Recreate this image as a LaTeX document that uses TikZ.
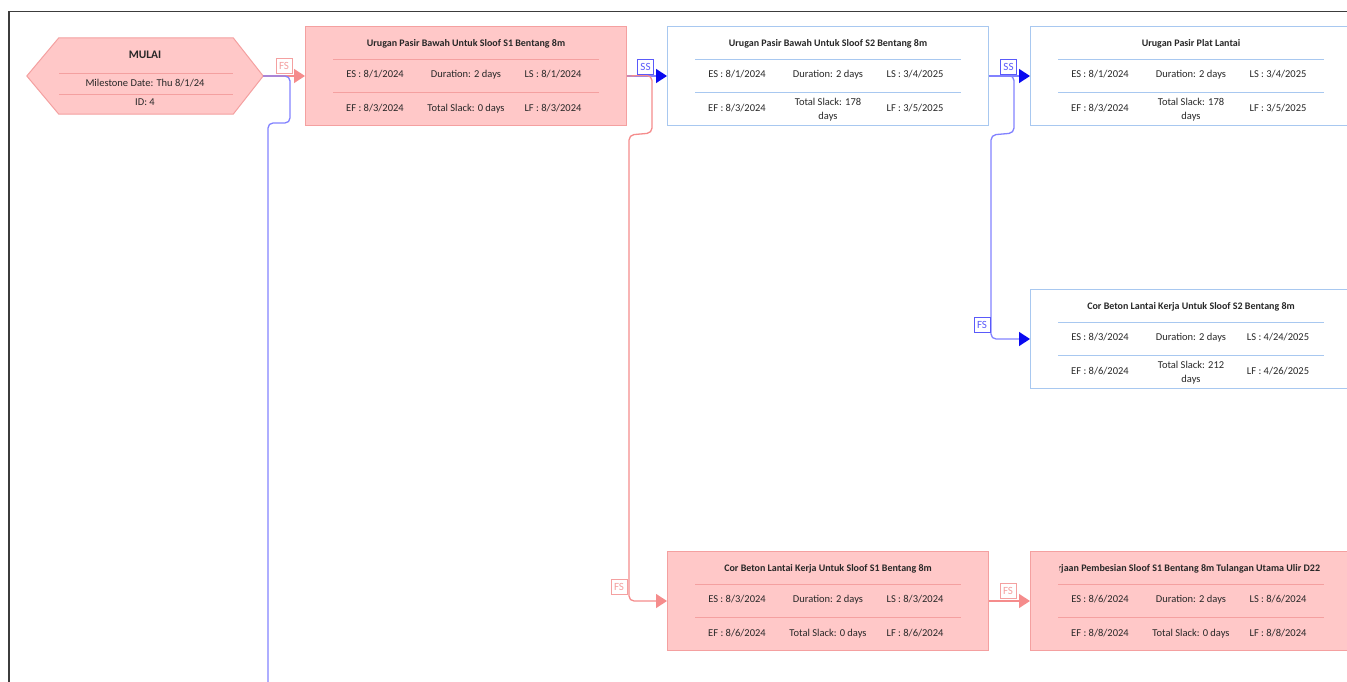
\documentclass[tikz,border=0pt]{standalone}
\usepackage{fontspec}
\setmainfont{Carlito}
\usetikzlibrary{arrows.meta,calc}
\definecolor{pinkfill}{RGB}{255,200,200}
\definecolor{pinkline}{RGB}{244,160,160}
\definecolor{pinkconn}{RGB}{245,140,140}
\definecolor{bluebox}{RGB}{168,200,240}
\definecolor{blueconn}{RGB}{130,130,255}
\definecolor{bluetip}{RGB}{10,10,240}
\definecolor{bluelabc}{RGB}{90,90,250}
\definecolor{framecol}{RGB}{60,60,60}
\definecolor{txtcol}{RGB}{40,40,40}
\newcommand\taskbox[5]{%
  \node[#4box, minimum width=321pt, minimum height=99pt, anchor=north west, inner sep=0pt] (#1) at (#2,#3) {};
  \draw[#4sep] ($(#1.north west)+(28,33)$) -- ($(#1.north east)+(-28,33)$);
  \draw[#4sep] ($(#1.north west)+(28,66)$) -- ($(#1.north east)+(-28,66)$);
  \if\relax\detokenize{#5}\relax\else
  \node[ttl, anchor=base] (#1-t) at ($(#1.north)+(0,20.5)$) {#5};\fi
}
\newcommand\taskrow[5]{%
  \node[txt, anchor=base] (#1-#2a) at ($(#1.north)+(-91,#2+3.5)$) {#3};
  \node[txt, anchor=base] (#1-#2b) at ($(#1.north)+(0,#2+3.5)$) {#4};
  \node[txt, anchor=base] (#1-#2c) at ($(#1.north)+(87,#2+3.5)$) {#5};
}
\newcommand\taskrowtwo[5]{%
  \node[txt, anchor=base] (#1-#2a) at ($(#1.north)+(-91,#2+3.5)$) {#3};
  \node[txt, align=center] (#1-#2b) at ($(#1.north)+(0,#2+1.5)$) {#4};
  \node[txt, anchor=base] (#1-#2c) at ($(#1.north)+(87,#2+3.5)$) {#5};
}
\begin{document}
\begin{tikzpicture}[x=1pt,y=-1pt,
  font=\fontsize{10.5}{14}\selectfont,
  critbox/.style={draw=pinkline, fill=pinkfill, line width=1pt},
  normbox/.style={draw=bluebox, fill=white, line width=1pt},
  critsep/.style={draw=pinkline, line width=0.9pt},
  normsep/.style={draw=bluebox, line width=0.9pt},
  txt/.style={inner sep=0pt, text=txtcol},
  ttl/.style={txt, font=\fontsize{10}{12}\selectfont\bfseries},
  pinkarrow/.style={draw=pinkconn, line width=1.3pt, rounded corners=5pt, -{Triangle[length=11pt,width=14pt,color=pinkconn]}},
  bluearrow/.style={draw=blueconn, line width=1.3pt, rounded corners=5pt, -{Triangle[length=11pt,width=14pt,color=bluetip]}},
  blueplain/.style={draw=blueconn, line width=1.3pt, rounded corners=5pt},
  lab/.style={fill=white, inner sep=0pt, minimum width=16pt, minimum height=15pt, line width=0.9pt, font=\fontsize{11}{11}\selectfont},
  pinklab/.style={lab, draw=pinkline, text=pinkline},
  bluelab/.style={lab, draw=bluelabc, text=bluelabc}]
\useasboundingbox (0,0) rectangle (1347,682);
\clip (0,0) rectangle (1347,682);

% frame
\draw[framecol, line width=1.5pt] (9,700) -- (9,11.5) -- (1360,11.5);

% MULAI milestone
\node[minimum width=236pt, minimum height=76pt, inner sep=0pt] (mulai) at (145,76) {};
\draw[draw=pinkline, fill=pinkfill, line width=1pt]
  (mulai.west) -- ($(mulai.north west)+(32,0)$) -- ($(mulai.north east)+(-30,0)$) -- (mulai.east)
  -- ($(mulai.south east)+(-30,0)$) -- ($(mulai.south west)+(32,0)$) -- cycle;
\draw[critsep] (59,73) -- (233,73);
\draw[critsep] (59,94) -- (233,94);
\node[ttl, font=\fontsize{11.5}{13}\selectfont\bfseries] (mulai-t) at (145,55) {MULAI};
\node[txt, anchor=base] (mulai-d) at (145,87) {Milestone Date: Thu 8/1/24};
\node[txt, anchor=base] (mulai-id) at (145,106) {ID: 4};

% task boxes
\taskbox{b1}{305}{26}{crit}{Urugan Pasir Bawah Untuk Sloof S1 Bentang 8m}
\taskrow{b1}{48}{ES : 8/1/2024}{Duration: 2 days}{LS : 8/1/2024}
\taskrow{b1}{82}{EF : 8/3/2024}{Total Slack: 0 days}{LF : 8/3/2024}

\taskbox{b2}{667}{26}{norm}{Urugan Pasir Bawah Untuk Sloof S2 Bentang 8m}
\taskrow{b2}{48}{ES : 8/1/2024}{Duration: 2 days}{LS : 3/4/2025}
\taskrowtwo{b2}{82}{EF : 8/3/2024}{Total Slack: 178\\days}{LF : 3/5/2025}

\taskbox{b3}{1030}{26}{norm}{Urugan Pasir Plat Lantai}
\taskrow{b3}{48}{ES : 8/1/2024}{Duration: 2 days}{LS : 3/4/2025}
\taskrowtwo{b3}{82}{EF : 8/3/2024}{Total Slack: 178\\days}{LF : 3/5/2025}

\taskbox{b4}{1030}{289}{norm}{Cor Beton Lantai Kerja Untuk Sloof S2 Bentang 8m}
\taskrow{b4}{48}{ES : 8/3/2024}{Duration: 2 days}{LS : 4/24/2025}
\taskrowtwo{b4}{82}{EF : 8/6/2024}{Total Slack: 212\\days}{LF : 4/26/2025}

\taskbox{b5}{667}{551}{crit}{Cor Beton Lantai Kerja Untuk Sloof S1 Bentang 8m}
\taskrow{b5}{48}{ES : 8/3/2024}{Duration: 2 days}{LS : 8/3/2024}
\taskrow{b5}{82}{EF : 8/6/2024}{Total Slack: 0 days}{LF : 8/6/2024}

\taskbox{b6}{1030}{551}{crit}{}
\begin{scope}
  \clip (1059,553) rectangle (1347,585);
  \node[ttl, anchor=base west] (b6-t) at (1061,571.5) {\llap{Peker}jaan Pembesian Sloof S1 Bentang 8m Tulangan Utama Ulir D22};
\end{scope}
\taskrow{b6}{48}{ES : 8/6/2024}{Duration: 2 days}{LS : 8/6/2024}
\taskrow{b6}{82}{EF : 8/8/2024}{Total Slack: 0 days}{LF : 8/8/2024}

% connectors
\coordinate (offb) at (268,700);
\draw[pinkarrow] (mulai.east) -- (b1.west);
\draw[blueplain] (mulai.east) -- (290,76) -- (290,123) -- (268,123) -- (offb);

\draw[bluearrow] (b1.east) -- (b2.west);
\draw[pinkarrow] (b1.east) -- (652,75.5) -- (652,133) -- (629,135) -- (629,601) -- (b5.west |- 0,601);

\draw[bluearrow] (b2.east) -- (b3.west);
\draw[bluearrow] (b2.east) -- (1014,75.5) -- (1014,133) -- (991,135) -- (991,339) -- (b4.west |- 0,339);

\draw[pinkarrow] (b5.east) -- (b6.west);

% labels
\node[pinklab] (l1) at (284,65.5) {FS};
\node[bluelab] (l2) at (645.5,66.5) {SS};
\node[bluelab] (l3) at (1008.5,66.5) {SS};
\node[bluelab] (l4) at (982,325) {FS};
\node[pinklab] (l5) at (619,586.5) {FS};
\node[pinklab] (l6) at (1008,591) {FS};
\end{tikzpicture}
\end{document}
